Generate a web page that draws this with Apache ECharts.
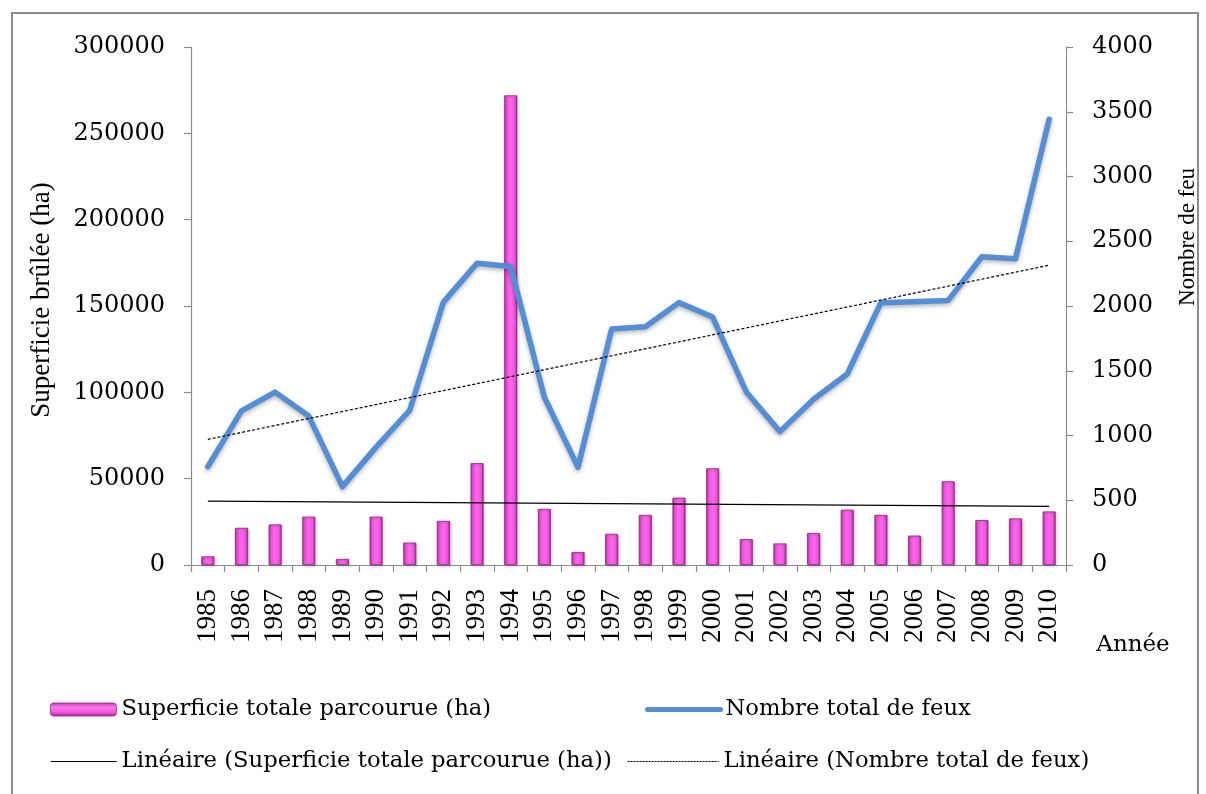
<!DOCTYPE html>
<html>
<head>
<meta charset="utf-8">
<script src="https://cdn.jsdelivr.net/npm/echarts@6/dist/echarts.min.js"></script>
<style>html,body{margin:0;padding:0;background:#fff;}#c{width:1206px;height:794px;}</style>
</head>
<body>
<div id="c"></div>
<script>
const years = ['1985','1986','1987','1988','1989','1990','1991','1992','1993','1994','1995','1996','1997','1998','1999','2000','2001','2002','2003','2004','2005','2006','2007','2008','2009','2010'];
const areaBurned = [5000, 21500, 23500, 28000, 3500, 28000, 13000, 25500, 59000, 272000, 32500, 7500, 18000, 29000, 39000, 56000, 15000, 12500, 18500, 32000, 29000, 17000, 48500, 26000, 27000, 31000];
const fireCount = [760, 1190, 1335, 1150, 605, 910, 1195, 2030, 2330, 2305, 1295, 755, 1822, 1840, 2026, 1915, 1336, 1030, 1280, 1475, 2026, 2033, 2043, 2380, 2365, 3442];
const areaTrendEnds = [37000, 34000];
const fireTrendEnds = [970, 2315];

const nameArea = 'Superficie totale parcourue (ha)';
const nameFires = 'Nombre total de feux';
const nameAreaTrend = 'Linéaire (Superficie totale parcourue (ha))';
const nameFireTrend = 'Linéaire (Nombre total de feux)';

function endsOnly(ends) {
  return years.map((y, i) => i === 0 ? ends[0] : (i === years.length - 1 ? ends[1] : null));
}

const HFONT = 'DejaVu Serif';
const VFONT = 'Liberation Serif';
const chart = echarts.init(document.getElementById('c'));
const axisLineStyle = { color: '#8c8c8c', width: 1.2 };
const hidden = { color: 'rgba(0,0,0,0)', borderColor: 'rgba(0,0,0,0)', borderWidth: 0 };

const legendBase = {
  orient: 'horizontal',
  textStyle: { fontFamily: HFONT, fontSize: 22.7, color: '#000' },
  selectedMode: false
};

chart.setOption({
  backgroundColor: '#fff',
  animation: false,
  grid: { left: 191, right: 140, top: 47, bottom: 229, containLabel: false },
  legend: [
    Object.assign({}, legendBase, { data: [nameArea], left: 45, top: 693, itemWidth: 66, itemHeight: 13,
      itemStyle: {
        color: new echarts.graphic.LinearGradient(0, 0, 0, 1, [
          { offset: 0, color: '#c23aae' },
          { offset: 0.35, color: '#ff77f0' },
          { offset: 0.7, color: '#f055dc' },
          { offset: 1, color: '#9a2888' }
        ]),
        borderColor: '#8a2a7c', borderWidth: 0.8, shadowBlur: 0, shadowColor: 'rgba(0,0,0,0)'
      } }),
    Object.assign({}, legendBase, { data: [nameFires], left: 640, top: 693, itemWidth: 73, itemHeight: 14,
      itemStyle: hidden, lineStyle: { width: 5, color: '#558ed5', shadowBlur: 0, shadowColor: 'rgba(0,0,0,0)' } }),
    Object.assign({}, legendBase, { data: [nameAreaTrend], left: 45, top: 745, itemWidth: 66, itemHeight: 14,
      itemStyle: hidden, lineStyle: { width: 1.2, color: '#000' } }),
    Object.assign({}, legendBase, { data: [nameFireTrend], left: 622, top: 745, itemWidth: 91, itemHeight: 14,
      itemStyle: hidden, lineStyle: { width: 1.2, color: '#000', type: [2, 1] } })
  ],
  xAxis: {
    type: 'category',
    data: years,
    boundaryGap: true,
    axisLine: { lineStyle: axisLineStyle },
    axisTick: { show: true, alignWithLabel: false, length: 7, lineStyle: axisLineStyle },
    axisLabel: { rotate: 90, fontFamily: VFONT, fontSize: 27, color: '#000', margin: 24, interval: 0 },
    splitLine: { show: false }
  },
  yAxis: [
    {
      type: 'value', min: 0, max: 300000, interval: 50000,
      axisLine: { show: true, lineStyle: axisLineStyle },
      axisTick: { show: true, length: 7, lineStyle: axisLineStyle },
      axisLabel: { fontFamily: HFONT, fontSize: 24, color: '#000', margin: 26, formatter: v => String(v) },
      splitLine: { show: false }
    },
    {
      type: 'value', min: 0, max: 4000, interval: 500, position: 'right',
      axisLine: { show: true, lineStyle: axisLineStyle },
      axisTick: { show: true, length: 7, lineStyle: axisLineStyle },
      axisLabel: { fontFamily: HFONT, fontSize: 24, color: '#000', margin: 26, align: 'left', formatter: v => String(v) },
      splitLine: { show: false }
    }
  ],
  series: [
    {
      name: nameArea, type: 'bar', yAxisIndex: 0, data: areaBurned, barWidth: 13,
      itemStyle: {
        color: new echarts.graphic.LinearGradient(0, 0, 1, 0, [
          { offset: 0, color: '#b02e9c' },
          { offset: 0.2, color: '#f055dc' },
          { offset: 0.5, color: '#ff66ee' },
          { offset: 0.8, color: '#f055dc' },
          { offset: 1, color: '#9a2888' }
        ]),
        borderColor: '#8a2a7c', borderWidth: 0.8,
        shadowColor: 'rgba(0,0,0,0.25)', shadowBlur: 3, shadowOffsetX: 1, shadowOffsetY: 1
      },
      z: 2
    },
    {
      name: nameFires, type: 'line', yAxisIndex: 1, data: fireCount,
      symbol: 'none', smooth: false,
      lineStyle: { color: '#558ed5', width: 5.5, shadowColor: 'rgba(0,0,0,0.3)', shadowBlur: 4, shadowOffsetY: 2, cap: 'round', join: 'round' },
      itemStyle: { color: '#558ed5' },
      z: 4
    },
    {
      name: nameAreaTrend, type: 'line', yAxisIndex: 0, data: endsOnly(areaTrendEnds),
      connectNulls: true, symbol: 'none',
      lineStyle: { color: '#000', width: 1.2 }, itemStyle: { color: '#000' },
      z: 3
    },
    {
      name: nameFireTrend, type: 'line', yAxisIndex: 1, data: endsOnly(fireTrendEnds),
      connectNulls: true, symbol: 'none',
      lineStyle: { color: '#000', width: 1.2, type: [3, 2] }, itemStyle: { color: '#000' },
      z: 5
    }
  ],
  graphic: [
    { type: 'rect', shape: { x: 12, y: 13, width: 1186, height: 790 }, style: { fill: 'none', stroke: '#8c8c8c', lineWidth: 2 }, silent: true, z: -1 },
    { type: 'text', x: 42, y: 300, rotation: Math.PI / 2, style: { text: 'Superficie brûlée (ha)', font: '27px "Liberation Serif"', fill: '#000', align: 'center', verticalAlign: 'middle' } },
    { type: 'text', x: 1188, y: 237, rotation: Math.PI / 2, style: { text: 'Nombre de feu', font: '23px "Liberation Serif"', fill: '#000', align: 'center', verticalAlign: 'middle' } },
    { type: 'text', x: 1133, y: 645, style: { text: 'Année', font: '23px "DejaVu Serif"', fill: '#000', align: 'center', verticalAlign: 'middle' } }
  ]
});
</script>
</body>
</html>
